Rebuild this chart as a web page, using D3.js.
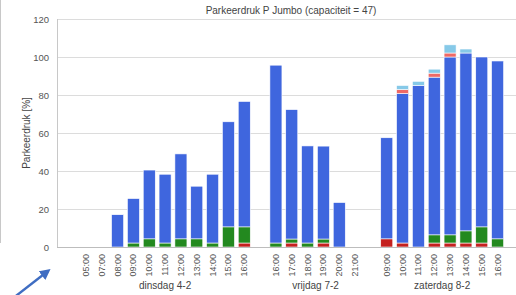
<!DOCTYPE html>
<html>
<head>
<meta charset="utf-8">
<script src="https://cdn.jsdelivr.net/npm/d3@7"></script>
<style>
  body { margin: 0; background: #fff; }
  svg { display: block; font-family: Arial, "Liberation Sans", sans-serif; }
</style>
</head>
<body>
<div class="chart"></div>
<script>
// days and their measured hours
const days = ['dinsdag 4-2', 'vrijdag 7-2', 'zaterdag 8-2'];
const hoursDinsdag = ['05:00', '07:00', '08:00', '09:00', '10:00', '11:00', '12:00', '13:00', '14:00', '15:00', '16:00'];
const hoursVrijdag = ['16:00', '17:00', '18:00', '19:00', '20:00', '21:00'];
const hoursZaterdag = ['09:00', '10:00', '11:00', '12:00', '13:00', '14:00', '15:00', '16:00'];

// parking pressure [%] per series, in order dinsdag, vrijdag, zaterdag
const redLow = [0, 0, 0, 0, 0, 0, 0, 0, 0, 0, 2.1,   0, 2.1, 0, 2.1, 0, 0,   4.3, 2.1, 0, 2.1, 2.1, 2.1, 2.1, 0];
const green = [0, 0, 0, 2.1, 4.3, 2.1, 4.3, 4.3, 2.1, 10.6, 8.5,   2.1, 2.1, 2.1, 2.1, 0, 0,   0, 0, 0, 4.3, 4.3, 6.4, 8.5, 4.3];
const blue = [0, 0, 17.0, 23.4, 36.2, 36.2, 44.7, 27.7, 36.2, 55.3, 66.0,   93.6, 68.1, 51.1, 48.9, 23.4, 0,   53.2, 78.7, 85.1, 83.0, 93.6, 93.6, 89.4, 93.6];
const salmon = [0, 0, 0, 0, 0, 0, 0, 0, 0, 0, 0,   0, 0, 0, 0, 0, 0,   0, 2.1, 0, 2.1, 2.1, 0, 0, 0];
const lightBlue = [0, 0, 0, 0, 0, 0, 0, 0, 0, 0, 0,   0, 0, 0, 0, 0, 0,   0, 2.1, 2.1, 2.1, 4.3, 2.1, 0, 0];

const yTicks = [0, 20, 40, 60, 80, 100, 120];

const seriesKeys = ['redLow', 'green', 'blue', 'salmon', 'lightBlue'];
const colors = {
  redLow: '#c4201f',
  green: '#23891f',
  blue: '#3f66de',
  salmon: '#ef6a66',
  lightBlue: '#86c9e8'
};

// build slots, with one empty slot between days
const groups = [hoursDinsdag, hoursVrijdag, hoursZaterdag];
const slots = [];
let i = 0;
groups.forEach((hours, g) => {
  if (g > 0) slots.push({ key: 'gap' + g, gap: true });
  hours.forEach((h) => {
    slots.push({
      key: g + '-' + h, hour: h, day: g,
      redLow: redLow[i], green: green[i], blue: blue[i], salmon: salmon[i], lightBlue: lightBlue[i]
    });
    i++;
  });
});
const barSlots = slots.filter((d) => !d.gap);

const W = 516, H = 295;
const plotLeft = 57, plotRight = 516, plotTop = 19, plotBottom = 247;

const x = d3.scaleBand()
  .domain(slots.map((d) => d.key))
  .range([78, 505.5])
  .paddingInner(0.24)
  .paddingOuter(0.12);
const y = d3.scaleLinear().domain([0, 120]).range([plotBottom, plotTop]);

const svg = d3.select('.chart').append('svg')
  .attr('width', W)
  .attr('height', H);

// faint frame line on the far left
svg.append('line')
  .attr('x1', 0.5).attr('x2', 0.5).attr('y1', 0).attr('y2', 243)
  .attr('stroke', '#c8c8c8');

// gridlines
svg.append('g')
  .selectAll('line')
  .data(yTicks.filter((t) => t > 0))
  .enter()
  .append('line')
  .attr('x1', plotLeft).attr('x2', plotRight)
  .attr('y1', (d) => y(d) + 0.5).attr('y2', (d) => y(d) + 0.5)
  .attr('stroke', '#dcdcdc');

// y axis
const yAxis = svg.append('g')
  .attr('transform', `translate(${plotLeft},0)`)
  .call(d3.axisLeft(y).tickValues(yTicks).tickSize(0).tickPadding(8));
yAxis.select('.domain').remove();
yAxis.selectAll('text').attr('font-size', 9.5).attr('fill', '#555');

svg.append('line')
  .attr('x1', plotLeft + 0.5).attr('x2', plotLeft + 0.5)
  .attr('y1', plotTop).attr('y2', plotBottom)
  .attr('stroke', '#c8c8c8');

// stacked bars
const stacked = d3.stack().keys(seriesKeys)(barSlots);
svg.append('g')
  .selectAll('g')
  .data(stacked)
  .enter()
  .append('g')
  .attr('fill', (s) => colors[s.key])
  .selectAll('rect')
  .data((s) => s.filter((d) => d[1] > d[0]))
  .enter()
  .append('rect')
  .attr('x', (d) => x(d.data.key))
  .attr('width', x.bandwidth())
  .attr('y', (d) => y(d[1]))
  .attr('height', (d) => y(d[0]) - y(d[1]))
  .attr('stroke', '#fff')
  .attr('stroke-width', 0.6);

// baseline
svg.append('line')
  .attr('x1', plotLeft).attr('x2', plotRight)
  .attr('y1', plotBottom + 0.5).attr('y2', plotBottom + 0.5)
  .attr('stroke', '#bdbdbd');

// hour labels, rotated
svg.append('g')
  .selectAll('text')
  .data(barSlots)
  .enter()
  .append('text')
  .attr('transform', (d) => `translate(${x(d.key) + x.bandwidth() / 2 + 3},254) rotate(-90)`)
  .attr('text-anchor', 'end')
  .attr('font-size', 9)
  .attr('fill', '#555')
  .text((d) => d.hour);

// day labels
svg.append('g')
  .selectAll('text')
  .data(days)
  .enter()
  .append('text')
  .attr('x', (d, g) => {
    const s = barSlots.filter((b) => b.day === g);
    return (x(s[0].key) + x(s[s.length - 1].key) + x.bandwidth()) / 2;
  })
  .attr('y', 289)
  .attr('text-anchor', 'middle')
  .attr('font-size', 10)
  .attr('fill', '#444')
  .text((d) => d);

// title
svg.append('text')
  .attr('x', 291)
  .attr('y', 14)
  .attr('text-anchor', 'middle')
  .attr('font-size', 10)
  .attr('fill', '#444')
  .text('Parkeerdruk P Jumbo (capaciteit = 47)');

// y axis title
svg.append('text')
  .attr('transform', `translate(30,${(plotTop + plotBottom) / 2}) rotate(-90)`)
  .attr('text-anchor', 'middle')
  .attr('font-size', 10)
  .attr('fill', '#444')
  .text('Parkeerdruk [%]');

// annotation arrow in the corner
svg.append('defs').append('marker')
  .attr('id', 'arrowhead')
  .attr('viewBox', '0 0 10 10')
  .attr('refX', 7).attr('refY', 5)
  .attr('markerWidth', 4.5).attr('markerHeight', 4.5)
  .attr('orient', 'auto')
  .append('path')
  .attr('d', 'M0,0 L10,5 L0,10 z')
  .attr('fill', '#3f6dc2');

svg.append('line')
  .attr('x1', 12).attr('y1', 299)
  .attr('x2', 48).attr('y2', 271)
  .attr('stroke', '#3f6dc2')
  .attr('stroke-width', 2.4)
  .attr('marker-end', 'url(#arrowhead)');
</script>
</body>
</html>
